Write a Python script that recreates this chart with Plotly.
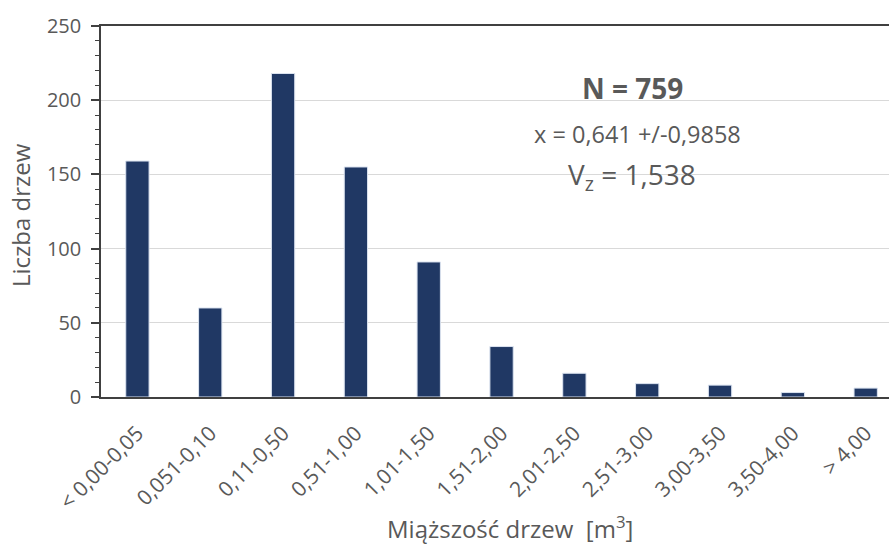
import plotly.graph_objects as go

categories = ["< 0,00-0,05", "0,051-0,10", "0,11-0,50", "0,51-1,00", "1,01-1,50",
              "1,51-2,00", "2,01-2,50", "2,51-3,00", "3,00-3,50", "3,50-4,00", "> 4,00"]
counts = [159, 60, 218, 155, 91, 34, 16, 9, 8, 3, 6]
y_ticks = [0, 50, 100, 150, 200, 250]

FONT = "Open Sans, sans-serif"
GRAY = "#595959"

L, T, PW, PH = 101, 26, 788, 371  # plot area in pixels


def px(x):
    return (x - L) / PW


def py(y):
    return (T + PH - y) / PH


fig = go.Figure()
fig.add_trace(go.Bar(
    x=categories, y=counts,
    marker=dict(color="#203864", line=dict(color="#dbe3f0", width=1)),
    width=0.32,
))

fig.update_layout(
    width=889, height=548,
    margin=dict(l=L, r=0, t=T, b=548 - T - PH),
    paper_bgcolor="white", plot_bgcolor="white",
    showlegend=False,
    font=dict(family=FONT, color=GRAY),
)

fig.update_xaxes(
    type="category",
    range=[-0.5, 10.32],
    tickangle=-45,
    tickfont=dict(size=21, color=GRAY),
    ticklabelstandoff=14,
    showline=True, linecolor="#404040", linewidth=1.5, mirror=True,
    ticks="", showgrid=False,
)
fig.update_yaxes(
    range=[0, 250],
    tickvals=y_ticks,
    tickfont=dict(size=20, color=GRAY),
    ticklabelstandoff=6,
    showline=True, linecolor="#404040", linewidth=1.5,
    ticks="outside", ticklen=8, tickcolor="#404040", tickwidth=1.5,
    minor=dict(dtick=10, ticks="outside", ticklen=4, tickcolor="#404040", tickwidth=1, showgrid=False),
    showgrid=True, gridcolor="#d9d9d9", gridwidth=1,
    zeroline=False,
)

# white box behind stats text
fig.add_shape(type="rect", xref="paper", yref="paper",
              x0=px(515), x1=px(748), y0=py(195), y1=py(62),
              fillcolor="white", line=dict(width=0), layer="between")

stats = [
    ("<b>N = 759</b>", 632, 88, 28),
    ("x = 0,641 +/-0,9858", 637, 134, 23.5),
    ("V<sub>z</sub> = 1,538", 632, 176, 28),
]
for text, x, y, size in stats:
    fig.add_annotation(xref="paper", yref="paper", x=px(x), y=py(y),
                       xanchor="center", yanchor="middle",
                       text=text, showarrow=False,
                       font=dict(size=size, color=GRAY, family=FONT))

# axis titles
fig.add_annotation(xref="paper", yref="paper", x=px(20), y=py(215),
                   text="Liczba drzew", textangle=-90, showarrow=False,
                   xanchor="center", yanchor="middle",
                   font=dict(size=24, color=GRAY, family=FONT))
fig.add_annotation(xref="paper", yref="paper", x=px(510), y=py(547),
                   text="Miąższość drzew  [m<sup>3</sup>]", showarrow=False,
                   xanchor="center", yanchor="bottom",
                   font=dict(size=24, color=GRAY, family=FONT))

fig.write_html("out.html", config={"displayModeBar": False},
               post_script="document.body.style.margin='0';document.body.style.overflow='hidden';")
